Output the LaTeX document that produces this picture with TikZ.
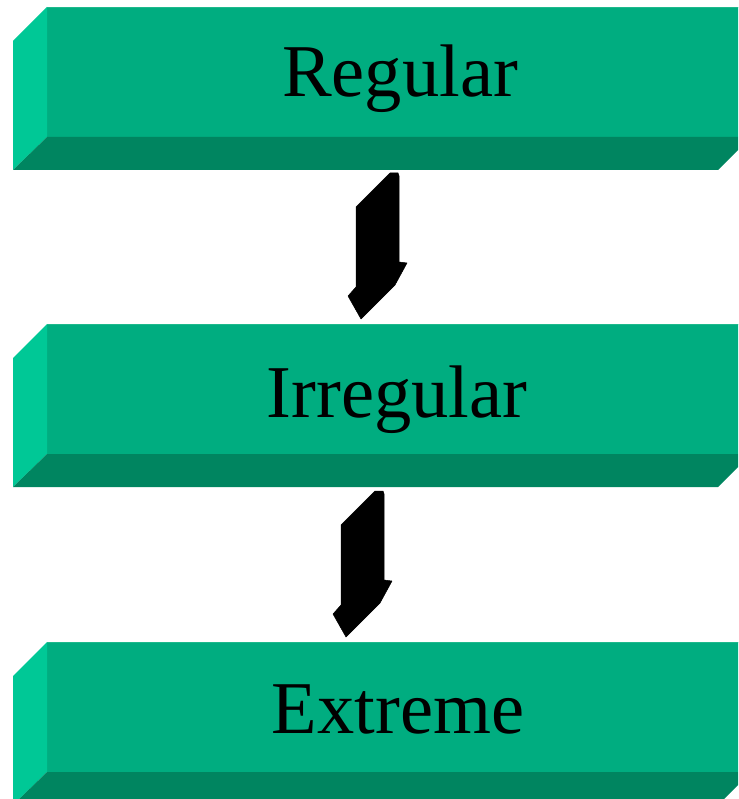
\documentclass[tikz,border=0pt]{standalone}
\usepackage{fontspec}
\setmainfont{Liberation Serif}
\definecolor{frontgreen}{RGB}{0,173,128}
\definecolor{sidegreen}{RGB}{0,200,150}
\definecolor{bottomgreen}{RGB}{0,133,96}
\definecolor{edgegreen}{RGB}{30,185,140}
\tikzset{
  frontface/.style={fill=frontgreen},
  sideface/.style={fill=sidegreen},
  bottomface/.style={fill=bottomgreen},
  labeltext/.style={anchor=base,inner sep=0pt,font=\fontsize{74.5}{80}\selectfont,text=black},
  arrowshape/.style={fill=black,draw=black,line width=0.5pt,line join=round},
  pics/bar/.style={code={
    \fill[frontface] (47,0) rectangle (751,130);
    \draw[edgegreen,line width=1pt] (47,0.5) -- (751,0.5);
    \fill[sideface] (13,34) -- (47,0) -- (47,130) -- (13,163) -- cycle;
    \fill[bottomface] (13,163) -- (47,130) -- (751,130) -- (718,163) -- cycle;
  }},
  pics/downarrow/.style={code={
    \filldraw[arrowshape] (390,173) -- (398,173) -- (399,176) -- (399,262) -- (407,263)
      -- (395,285) -- (361,319) -- (348,296) -- (356,287) -- (356,207) -- cycle;
  }}
}
\begin{document}
\begin{tikzpicture}[x=1pt,y=-1pt]
\useasboundingbox (0,0) rectangle (738,799);
\clip (0,0) rectangle (738,799);
\pic at (0,7) {bar};
\pic at (0,324) {bar};
\pic at (0,642) {bar};
\pic at (0,0) {downarrow};
\pic at (-15,318) {downarrow};
\node[labeltext] (regular) at (400,97) {Regular};
\node[labeltext] (irregular) at (397,417) {Irregular};
\node[labeltext] (extreme) at (398,733) {Extreme};
\end{tikzpicture}
\end{document}
